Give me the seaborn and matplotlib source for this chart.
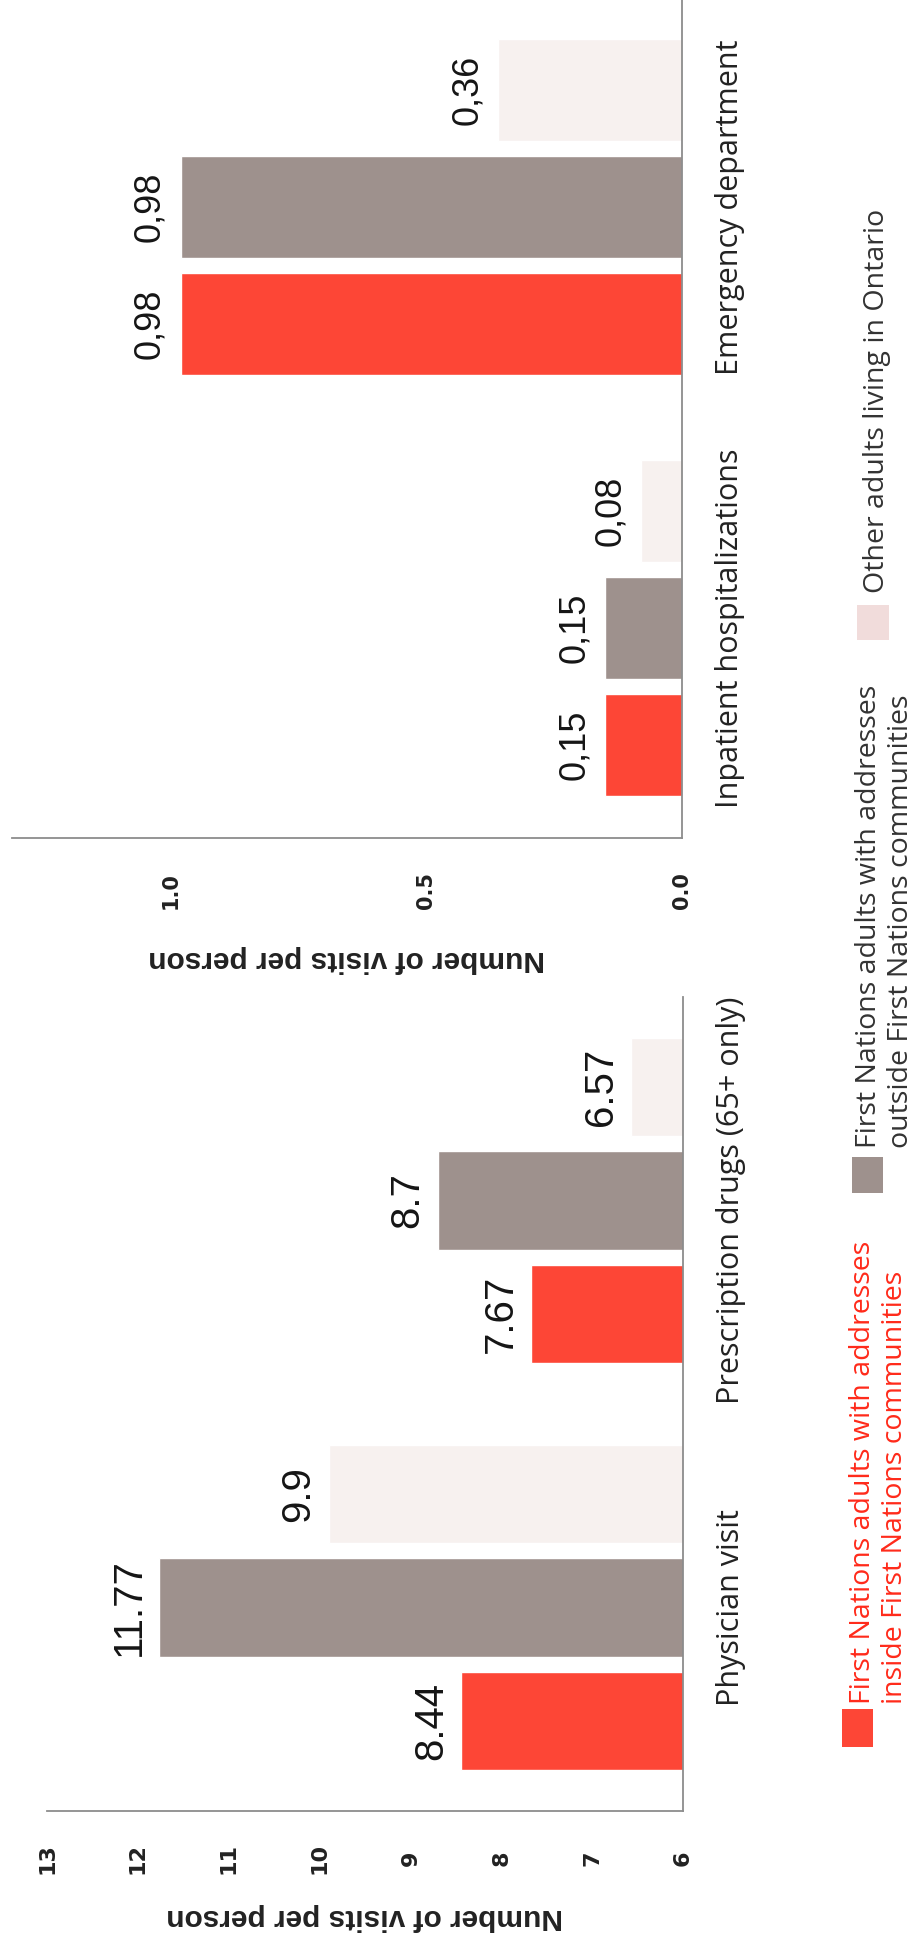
import matplotlib
matplotlib.use("Agg")
import matplotlib.pyplot as plt
from matplotlib.patches import Rectangle
import pandas as pd
import seaborn as sns

# ---- data -------------------------------------------------------------
groups = [
    "First Nations adults with addresses\ninside First Nations communities",
    "First Nations adults with addresses\noutside First Nations communities",
    "Other adults living in Ontario",
]
colors = ["#fd4636", "#9e918d", "#f7f1ef"]
legend_colors = ["#fd4636", "#9e918d", "#f1dcdb"]

care_cats = ["Physician visit", "Prescription drugs (65+ only)"]
care_inside = [8.44, 7.67]
care_outside = [11.77, 8.7]
care_other = [9.9, 6.57]
care_ticks = [6, 7, 8, 9, 10, 11, 12, 13]

hosp_cats = ["Inpatient hospitalizations", "Emergency department"]
hosp_inside = [0.15, 0.98]
hosp_outside = [0.15, 0.98]
hosp_other = [0.08, 0.36]
hosp_ticks = [0.0, 0.5, 1.0]

axis_title = "Number of visits per person"


def long_frame(cats, inside, outside, other):
    rows = []
    for g, vals in zip(groups, [inside, outside, other]):
        for c, v in zip(cats, vals):
            rows.append({"category": c, "group": g, "value": v})
    return pd.DataFrame(rows)


care_df = long_frame(care_cats, care_inside, care_outside, care_other)
hosp_df = long_frame(hosp_cats, hosp_inside, hosp_outside, hosp_other)

# ---- style ------------------------------------------------------------
sns.set_style("white")
plt.rcParams["font.family"] = ["DejaVu Sans"]

W, H = 924, 1944
fig = plt.figure(figsize=(W / 100, H / 100), dpi=100)
fig.patch.set_facecolor("white")


def axes_box(left, top, right, bottom):
    return [left / W, 1 - bottom / H, (right - left) / W, (bottom - top) / H]


palette = dict(zip(groups, colors))
hue_order = groups[::-1]          # portrait layout: last group on top
SPINE = "#8c8c8c"
TXT = "#151515"


def draw_panel(ax, df, cats, xlim, ticks, ticklabels, fmt, val_size,
               val_pad, tick_pad, label_y, tick_size):
    sns.barplot(data=df, x="value", y="category", hue="group",
                order=cats[::-1], hue_order=hue_order, palette=palette,
                orient="h", width=0.835, gap=0.13, saturation=1,
                errorbar=None, legend=False, ax=ax)
    ax.set_xlim(*xlim)                 # reversed: values grow to the left
    ax.set_ylim(1.5, -0.5)
    ax.set_xticks(ticks)
    ax.set_xticklabels(ticklabels)
    ax.tick_params(axis="x", length=0, pad=tick_pad, labelrotation=90,
                   labelsize=tick_size, labelcolor="#222222")
    for t in ax.get_xticklabels():
        t.set_va("center")
        t.set_fontweight("bold")
    ax.yaxis.tick_right()
    ax.tick_params(axis="y", length=0, pad=24, labelsize=22,
                   labelcolor="#222222")
    for t in ax.get_yticklabels():
        t.set_rotation(90)
        t.set_va("center")
        t.set_ha("left")
        t.set_family("Open Sans")
    ax.set_ylabel("")
    ax.set_xlabel(axis_title, rotation=180, fontsize=21.5,
                  fontweight="bold", family="Liberation Sans",
                  color="#222222")
    ax.xaxis.label.set_va("center")
    ax.xaxis.set_label_coords(0.5, label_y)
    for side in ["top", "left"]:
        ax.spines[side].set_visible(False)
    for side in ["right", "bottom"]:
        ax.spines[side].set_color(SPINE)
        ax.spines[side].set_linewidth(1.3)
    ax.grid(False)
    for cont in ax.containers:
        ax.bar_label(cont, fmt=fmt, padding=val_pad, rotation=90,
                     fontsize=val_size, family="Liberation Sans", color=TXT)


# lower panel: physician visits and prescriptions
ax1 = fig.add_axes(axes_box(47, 997, 683, 1811))
draw_panel(ax1, care_df, care_cats, (13, 6), care_ticks,
           [str(t) for t in care_ticks], lambda v: f"{v:g}",
           29, 8, 34, -0.1302, 16)

# upper panel: hospital use
ax2 = fig.add_axes(axes_box(12, -3, 682, 838))
draw_panel(ax2, hosp_df, hosp_cats, (1.31, 0), hosp_ticks,
           [f"{t:.1f}" for t in hosp_ticks],
           lambda v: f"{v:.2f}".replace(".", ","),
           26, 9.5, 38, -0.1439, 15)

# ---- legend (one row, turned with the chart) --------------------------
legend_items = [
    # patch box (x0, y0, x1, y1), text anchor (x, y), text colour
    ((842, 1709, 873, 1747), (879, 1704), "#ff2a1a"),
    ((852, 1157, 883, 1193), (885, 1148), "#333333"),
    ((857, 605, 889, 640), (877, 593), "#333333"),
]
for (box, anchor, tcol), g, fc in zip(legend_items, groups, legend_colors):
    x0, y0, x1, y1 = box
    fig.add_artist(Rectangle((x0 / W, 1 - y1 / H), (x1 - x0) / W,
                             (y1 - y0) / H, transform=fig.transFigure,
                             facecolor=fc, edgecolor="none"))
    fig.text(anchor[0] / W, 1 - anchor[1] / H, g, rotation=90,
             rotation_mode="anchor", ha="left", va="center",
             multialignment="left", fontsize=20.5, family="Open Sans",
             color=tcol, linespacing=1.15)

fig.savefig("out.png", dpi=100, facecolor="white")
